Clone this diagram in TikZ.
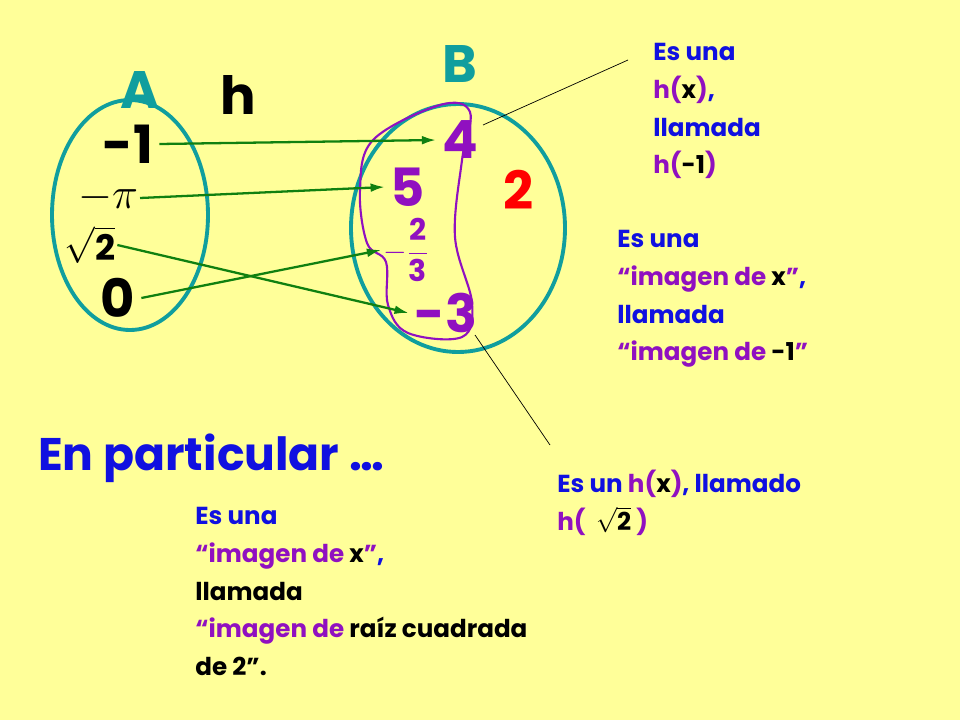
\documentclass[tikz,border=0pt]{standalone}
\usepackage{amsmath}
\usepackage{fontspec}
\setmainfont{Poppins}
\usetikzlibrary{arrows.meta}
\definecolor{bgyellow}{HTML}{FFFF99}
\definecolor{setteal}{HTML}{109E9E}
\definecolor{txtblue}{HTML}{1010E0}
\definecolor{txtpurple}{HTML}{9010C0}
\definecolor{arrgreen}{HTML}{108010}
\newcommand{\pu}[1]{{\color{txtpurple}#1}}
\newcommand{\bk}[1]{{\color{black}#1}}
\begin{document}
\begin{tikzpicture}[x=0.02cm,y=-0.02cm,
  elem/.style={font=\fontsize{30}{32}\selectfont\bfseries},
  setname/.style={font=\fontsize{30}{32}\selectfont\bfseries,text=setteal},
  note/.style={anchor=north west,align=left,text=txtblue,font=\fontsize{14}{21.5}\selectfont\bfseries,inner sep=0pt},
  map/.style={arrgreen,line width=1.3pt,-{Latex[length=8pt,width=5pt]}},
  pointer/.style={black,line width=0.4pt}]
  \fill[bgyellow] (0,0) rectangle (960,720);

  % sets
  \draw[setteal,line width=2.2pt] (130,215) ellipse [x radius=78,y radius=115];
  \draw[setteal,line width=2.2pt] (458,228) ellipse [x radius=107,y radius=124];
  \draw[txtpurple,line width=1.2pt] plot[smooth cycle,tension=0.6] coordinates
    {(440,105) (470,112) (462,160) (455,237) (472,303) (462,337) (408,333) (388,305) (386,262) (367,243) (360,190) (373,140)};

  \node[setname] (A) at (140,90) {A};
  \node[setname,text=black] (h) at (238,95) {h};
  \node[setname] (B) at (460,64) {B};

  \node[elem] (m1) at (128,144) {-1};
  \node[font=\fontsize{26}{28}\selectfont,inner sep=1pt] (mpi) at (108,198) {$-\pi$};
  \node[font=\fontsize{20}{22}\selectfont\bfseries,inner sep=1pt] (r2) at (90,245) {$\sqrt{\text{2}}$};
  \node[elem] (z) at (118,298) {0};
  \node[elem,text=txtpurple] (f4) at (460,140) {4};
  \node[elem,text=txtpurple] (f5) at (408,187) {5};
  \node[text=txtpurple,font=\fontsize{17}{18}\selectfont\bfseries,inner sep=1pt] (f23) at (406,250) {$-\dfrac{\text{2}}{\text{3}}$};
  \node[elem,text=txtpurple] (f3) at (446,313) {-3};
  \node[elem,text=red] (f2) at (519,190) {2};

  \draw[map] (m1.east) -- (f4.west);
  \draw[map] (mpi.east) -- (f5.west);
  \draw[map] (r2.east) -- (f3.west);
  \draw[map] (z.east) -- (f23.west);

  \coordinate (p1) at (628,60);
  \coordinate (p2) at (550,445);
  \draw[pointer] (483,125) -- (p1);
  \draw[pointer] (475,335) -- (p2);

  % notes
  \node[note] (n1) at (653,43) {Es una\\\pu{h(}\bk{x}\pu{)},\\llamada\\\pu{h(}\bk{-1}\pu{)}};
  \node[note] (n2) at (617,230) {Es una\\\pu{``imagen de }\bk{x}\pu{''},\\llamada\\\pu{``imagen de }\bk{-1}\pu{''}};
  \node[note] (n3) at (557,470) {Es un \pu{h(}\bk{x}\pu{)}, llamado\\\pu{h(}\ \ \bk{$\sqrt{\text{2}}$}\ \pu{)}};
  \node[anchor=west,text=txtblue,font=\fontsize{26}{30}\selectfont\bfseries] (part) at (32,458) {En particular \dots};
  \node[note] (n4) at (195,507) {Es una\\\pu{``imagen de }\bk{x}\pu{''},\\\bk{llamada}\\\pu{``imagen de }\bk{raíz cuadrada}\\\bk{de 2''.}};
\end{tikzpicture}
\end{document}
